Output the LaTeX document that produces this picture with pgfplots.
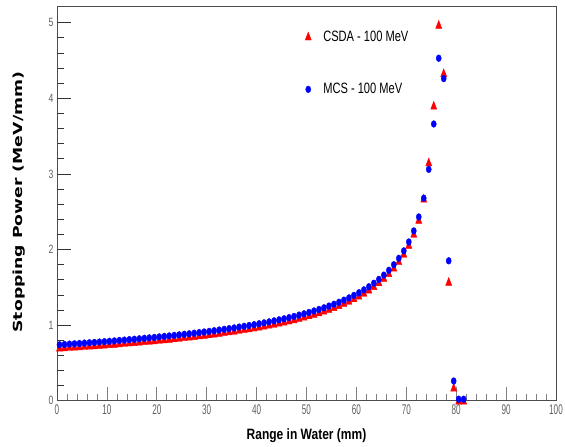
\documentclass[border=0pt]{standalone}
\usepackage{fontspec}
\setmainfont{Liberation Sans}
\newfontfamily\dejavu{DejaVu Sans}
\usepackage{graphicx}
\usepackage{pgfplots}
\usepackage{pgfplotstable}
\pgfplotsset{compat=1.18}

% CSDA series (red triangles)
\pgfplotstableread{
x y
0.5 0.690
1.5 0.694
2.5 0.699
3.5 0.703
4.5 0.707
5.5 0.712
6.5 0.717
7.5 0.721
8.5 0.726
9.5 0.731
10.5 0.736
11.5 0.741
12.5 0.747
13.5 0.752
14.5 0.758
15.5 0.763
16.5 0.769
17.5 0.775
18.5 0.781
19.5 0.787
20.5 0.794
21.5 0.800
22.5 0.807
23.5 0.814
24.5 0.821
25.5 0.828
26.5 0.835
27.5 0.843
28.5 0.851
29.5 0.859
30.5 0.867
31.5 0.876
32.5 0.885
33.5 0.894
34.5 0.904
35.5 0.913
36.5 0.924
37.5 0.934
38.5 0.945
39.5 0.956
40.5 0.968
41.5 0.980
42.5 0.993
43.5 1.006
44.5 1.020
45.5 1.034
46.5 1.049
47.5 1.065
48.5 1.082
49.5 1.099
50.5 1.118
51.5 1.137
52.5 1.157
53.5 1.179
54.5 1.202
55.5 1.226
56.5 1.252
57.5 1.280
58.5 1.310
59.5 1.343
60.5 1.378
61.5 1.416
62.5 1.458
63.5 1.504
64.5 1.555
65.5 1.611
66.5 1.675
67.5 1.749
68.5 1.833
69.5 1.932
70.5 2.050
71.5 2.196
72.5 2.381
73.5 2.66
74.5 3.14
75.5 3.89
76.5 4.96
77.5 4.32
78.5 1.56
79.5 0.16
80.5 -0.01
81.5 -0.01
}\csdatable

% MCS series (blue dots)
\pgfplotstableread{
x y
0.5 0.740
1.5 0.744
2.5 0.749
3.5 0.753
4.5 0.757
5.5 0.762
6.5 0.767
7.5 0.771
8.5 0.776
9.5 0.781
10.5 0.786
11.5 0.791
12.5 0.797
13.5 0.802
14.5 0.808
15.5 0.813
16.5 0.819
17.5 0.825
18.5 0.831
19.5 0.837
20.5 0.844
21.5 0.850
22.5 0.857
23.5 0.864
24.5 0.871
25.5 0.878
26.5 0.885
27.5 0.893
28.5 0.901
29.5 0.909
30.5 0.917
31.5 0.926
32.5 0.935
33.5 0.944
34.5 0.954
35.5 0.963
36.5 0.974
37.5 0.984
38.5 0.995
39.5 1.006
40.5 1.018
41.5 1.030
42.5 1.043
43.5 1.056
44.5 1.070
45.5 1.084
46.5 1.099
47.5 1.115
48.5 1.132
49.5 1.149
50.5 1.168
51.5 1.187
52.5 1.207
53.5 1.229
54.5 1.252
55.5 1.276
56.5 1.302
57.5 1.330
58.5 1.360
59.5 1.393
60.5 1.428
61.5 1.466
62.5 1.508
63.5 1.554
64.5 1.605
65.5 1.661
66.5 1.725
67.5 1.799
68.5 1.883
69.5 1.982
70.5 2.100
71.5 2.246
72.5 2.431
73.5 2.679
74.5 3.06
75.5 3.66
76.5 4.53
77.5 4.26
78.5 1.85
79.5 0.26
80.5 0.02
81.5 0.02
}\mcstable

\begin{document}
\begin{tikzpicture}
\begin{axis}[
    scale only axis,
    width=499pt, height=393.9pt,
    xmin=0, xmax=100,
    ymin=0, ymax=5.21,
    clip=false,
    axis line style={draw=gray!60!black, line width=0.8pt},
    xtick={0,10,...,100},
    ytick={0,1,...,5},
    minor x tick num=4,
    minor y tick num=4,
    tick align=inside,
    xtick pos=bottom, ytick pos=left,
    major tick length=14pt,
    minor tick length=7pt,
    xtick style={gray, line width=0.7pt},
    ytick style={black!80, line width=0.7pt},
    xticklabel={\scalebox{0.58}[1]{\fontsize{14}{15}\selectfont\color{gray!75!black}\pgfmathprintnumber[assume math mode=true]{\tick}}},
    yticklabel={\scalebox{0.72}[1]{\fontsize{12}{13}\selectfont\color{gray!75!black}\pgfmathprintnumber[assume math mode=true]{\tick}}},
    xlabel={\scalebox{0.8}[1]{\bfseries Range in Water (mm)}},
    xlabel style={font=\fontsize{15}{16}\selectfont, at={(axis description cs:0.5,-0.088)}, anchor=center},
    ylabel={\scalebox{1.38}[1]{\dejavu\bfseries Stopping Power (MeV/mm)}},
    ylabel style={font=\fontsize{12.5}{14}\selectfont, at={(axis description cs:-0.076,0.504)}, anchor=center},
    legend style={draw=none, fill=none, at={(axis cs:49.1,4.94)}, anchor=north west,
        row sep=36pt, font=\fontsize{15}{16}\selectfont, cells={anchor=west}},
]
\addplot[only marks, mark=triangle*, color=red, mark size=3.5pt,
    mark options={yscale=1.5}] table {\csdatable};
\addlegendentry{\hspace{10pt}\scalebox{0.74}[1]{CSDA - 100 MeV}}
\addplot[only marks, mark=*, color=blue, mark size=3.4pt,
    mark options={xscale=0.75}] table {\mcstable};
\addlegendentry{\hspace{10pt}\scalebox{0.74}[1]{MCS - 100 MeV}}
\end{axis}
\pgfresetboundingbox
\path[use as bounding box] (-57pt,-46.3pt) rectangle (508pt,400.7pt);
\end{tikzpicture}
\end{document}
